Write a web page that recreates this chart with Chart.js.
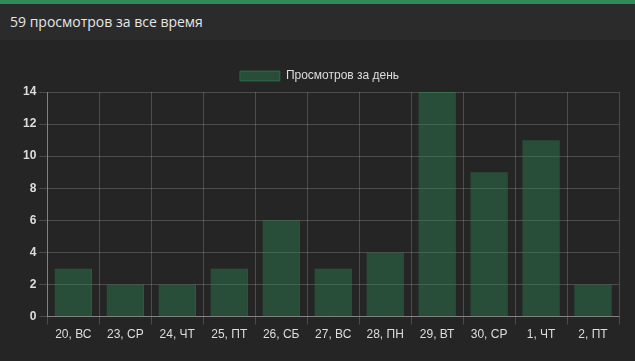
<!DOCTYPE html>
<html><head><meta charset="utf-8">
<script src="https://cdn.jsdelivr.net/npm/chart.js@4/dist/chart.umd.min.js"></script>
<style>
html,body{margin:0;padding:0;background:#252525;width:635px;height:361px;overflow:hidden;}
#hdr{height:36px;border-top:4px solid #2e8b57;background:#2b2b2b;color:#e6e6e6;font-family:"Open Sans",sans-serif;font-size:14px;line-height:36px;padding-left:10px;box-sizing:content-box;}
#wrap{position:absolute;left:0;top:40px;width:635px;height:321px;}
</style></head><body>
<div id="hdr">59 просмотров за все время</div>
<div id="wrap"><canvas id="c"></canvas></div>
<script>
const categories = ["20, ВС","23, СР","24, ЧТ","25, ПТ","26, СБ","27, ВС","28, ПН","29, ВТ","30, СР","1, ЧТ","2, ПТ"];
const views = [3,2,2,3,6,3,4,14,9,11,2];
const seriesName = "Просмотров за день";
const yTicks = [0,2,4,6,8,10,12,14];

new Chart(document.getElementById('c'), {
  type: 'bar',
  data: { labels: categories, datasets: [{
    label: seriesName, data: views,
    backgroundColor: 'rgba(46,139,87,0.4)',
    borderColor: 'rgba(46,139,87,0.55)', borderWidth: 1
  }]},
  options: {
    responsive: true, maintainAspectRatio: false, animation: false,
    layout: { padding: { top: 20, right: 16, left: 20, bottom: 16 } },
    plugins: {
      legend: { labels: { color: '#dddddd', font: { family: 'Liberation Sans', size: 12 }, boxWidth: 40, boxHeight: 10 } },
      tooltip: { enabled: false }
    },
    scales: {
      x: { grid: { color: 'rgba(255,255,255,0.18)' }, border: { color: 'rgba(255,255,255,0.3)' },
           ticks: { color: '#dddddd', font: { family: 'Liberation Sans', size: 12 } } },
      y: { min: 0, max: 14, grid: { color: 'rgba(255,255,255,0.18)' }, border: { color: 'rgba(255,255,255,0.3)' },
           afterBuildTicks: (s) => { s.ticks = yTicks.map(v => ({ value: v })); },
           ticks: { color: '#dddddd', font: { family: 'Liberation Sans', size: 12, weight: 'bold' } } }
    }
  }
});
</script></body></html>
